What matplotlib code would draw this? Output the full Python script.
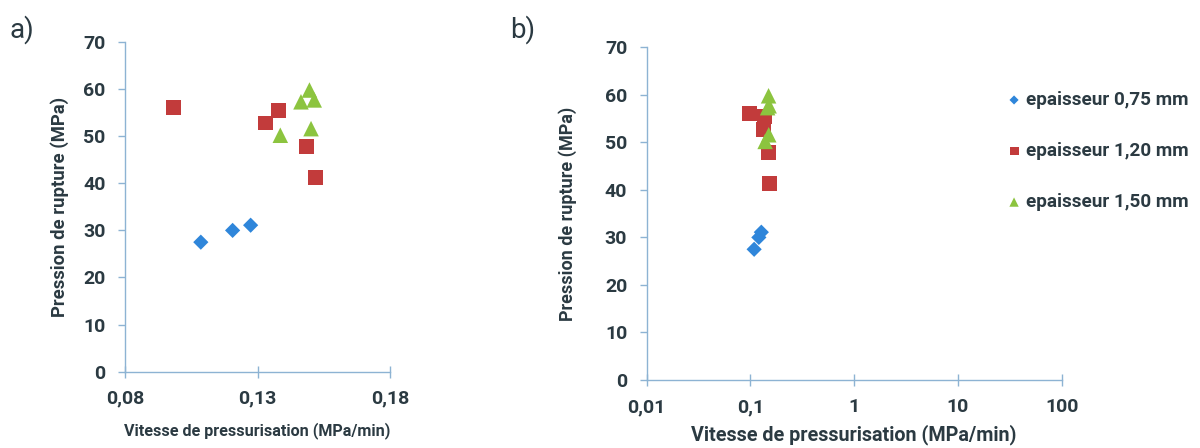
import matplotlib
matplotlib.use("Agg")
import matplotlib.pyplot as plt
from matplotlib.ticker import FixedLocator, FuncFormatter, NullLocator

plt.rcParams['font.family'] = ['Roboto', 'DejaVu Sans']

# Data: pressurisation rate (MPa/min) vs rupture pressure (MPa)
x_075 = [0.1086, 0.1206, 0.1274]
y_075 = [27.5, 30.0, 31.1]
x_120 = [0.0984, 0.1329, 0.1380, 0.1485, 0.1518]
y_120 = [56.0, 52.8, 55.5, 47.9, 41.3]
x_150 = [0.1386, 0.1464, 0.1496, 0.1514, 0.1502]
y_150 = [50.2, 57.3, 59.8, 57.7, 51.6]

labels = ['epaisseur 0,75 mm', 'epaisseur 1,20 mm', 'epaisseur 1,50 mm']
xticks_a = [0.08, 0.13, 0.18]
xticks_b = [0.01, 0.1, 1, 10, 100]
xticklabels_b = ['0,01', '0,1', '1', '10', '100']
yticks = [0, 10, 20, 30, 40, 50, 60, 70]

c_blue = '#2F86DA'
c_red = '#C23B3B'
c_green = '#8CC43F'
axis_col = '#8DB3D3'
txt_col = '#2B3A42'

fig = plt.figure(figsize=(12, 4.48), dpi=100)
ax_a = fig.add_axes([0.1042, 0.1703, 0.2208, 0.736])
ax_b = fig.add_axes([0.5389, 0.1518, 0.3458, 0.7426])

TICK_FS = 14


def draw(ax, xl_fs, yl_fs, xpad, ypad):
    h1 = ax.scatter(x_075, y_075, marker='D', s=60, color=c_blue, edgecolors='none', zorder=3)
    h2 = ax.scatter(x_120, y_120, marker='s', s=115, color=c_red, edgecolors='none', zorder=3)
    h3 = ax.scatter(x_150, y_150, marker='^', s=125, color=c_green, edgecolors='none', zorder=3)
    ax.set_ylim(0, 70)
    ax.yaxis.set_major_locator(FixedLocator(yticks))
    for s in ['top', 'right']:
        ax.spines[s].set_visible(False)
    for s in ['left', 'bottom']:
        ax.spines[s].set_color(axis_col)
        ax.spines[s].set_linewidth(1.0)
    ax.tick_params(axis='both', colors=axis_col, labelcolor=txt_col, labelsize=TICK_FS,
                   length=5, width=1.0, direction='out')
    ax.tick_params(axis='y', pad=9)
    ax.tick_params(axis='x', direction='inout', length=8, pad=9)
    ax.set_ylabel('Pression de rupture (MPa)', fontsize=yl_fs, fontweight='bold', color=txt_col, labelpad=ypad)
    ax.set_xlabel('Vitesse de pressurisation (MPa/min)', fontsize=xl_fs, fontweight='bold', color=txt_col, labelpad=xpad)
    return h1, h2, h3


draw(ax_a, 11.6, 13.3, 10, 10)
ax_a.set_xlim(0.08, 0.18)
ax_a.xaxis.set_major_locator(FixedLocator(xticks_a))
ax_a.xaxis.set_major_formatter(FuncFormatter(lambda v, p: f'{v:.2f}'.replace('.', ',')))
ax_a.yaxis.set_major_formatter(FuncFormatter(lambda v, p: f'{int(v)}'))

handles = draw(ax_b, 14.2, 13.0, 6, 20)
ax_b.set_xscale('log')
ax_b.set_xlim(0.01, 100)
ax_b.xaxis.set_major_locator(FixedLocator(xticks_b))
ax_b.xaxis.set_minor_locator(NullLocator())
ax_b.xaxis.set_major_formatter(FuncFormatter(lambda v, p: xticklabels_b[xticks_b.index(min(xticks_b, key=lambda t: abs(t - v)))]))
ax_b.yaxis.set_major_formatter(FuncFormatter(lambda v, p: f'{int(v)}'))

for ax in (ax_a, ax_b):
    for lab in ax.get_xticklabels() + ax.get_yticklabels():
        lab.set_fontweight('bold')

leg = fig.legend(handles, labels, loc='upper left', bbox_to_anchor=(0.823, 0.835),
                 frameon=False, fontsize=13.6, labelspacing=1.75, handletextpad=0.15,
                 markerscale=0.6, handlelength=1.0)
for t in leg.get_texts():
    t.set_color(txt_col)
    t.set_fontweight('bold')

fig.text(0.008, 0.915, 'a)', fontsize=20, color=txt_col)
fig.text(0.425, 0.915, 'b)', fontsize=20, color=txt_col)

fig.savefig('out.png', dpi=100)
